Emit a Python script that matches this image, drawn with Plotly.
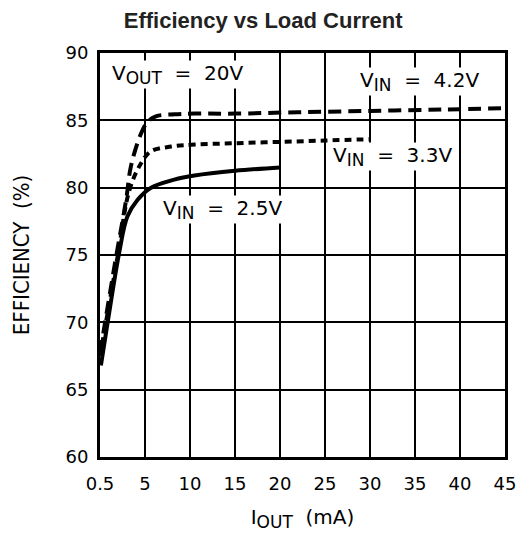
import plotly.graph_objects as go

# Data (x on the load-current axis, y = efficiency in %)
x_25 = [0.1, 0.85, 2.14, 3.04, 4.18, 5.67, 8.26, 10.5, 15.0, 20.0]
y_25 = [66.8, 70.0, 75.2, 77.85, 79.1, 80.0, 80.6, 80.9, 81.25, 81.5]

x_33 = [0.0, 1.96, 3.26, 4.55, 5.67, 7.9, 10.5, 15.0, 20.0, 25.0, 30.0]
y_33 = [67.5, 74.9, 79.8, 81.8, 82.7, 83.05, 83.2, 83.3, 83.4, 83.5, 83.6]

x_42 = [0.0, 1.59, 2.9, 3.44, 4.55, 5.3, 6.2, 8.3, 10.5, 15.0, 22.0, 30.0, 38.0, 45.0]
y_42 = [67.7, 74.1, 79.1, 81.6, 84.0, 84.9, 85.3, 85.45, 85.5, 85.5, 85.6, 85.7, 85.8, 85.9]

x_tickvals = [0, 5, 10, 15, 20, 25, 30, 35, 40, 45]
x_ticktext = ["0.5", "5", "10", "15", "20", "25", "30", "35", "40", "45"]
y_tickvals = [60, 65, 70, 75, 80, 85, 90]

FONT = "DejaVu Sans"

fig = go.Figure()
fig.add_trace(go.Scatter(x=x_25, y=y_25, mode="lines",
                         line=dict(color="black", width=4, shape="spline", smoothing=1), showlegend=False))
fig.add_trace(go.Scatter(x=x_33, y=y_33, mode="lines",
                         line=dict(color="black", width=4, shape="spline", smoothing=1, dash="7px,5px"), showlegend=False))
fig.add_trace(go.Scatter(x=x_42, y=y_42, mode="lines",
                         line=dict(color="black", width=4, shape="spline", smoothing=1, dash="13px,7px"), showlegend=False))

ann_font = dict(family=FONT, size=20, color="black")
SUB = '<sub><span style="font-size:17px">{}</span></sub>'
annotations = [
    dict(x=1.2, y=88.4, xanchor="left", yanchor="middle", text="V" + SUB.format("OUT") + "  =  20V",
         showarrow=False, font=ann_font, bgcolor="white", borderpad=0),
    dict(x=28.8, y=87.9, xanchor="left", yanchor="middle", text="V" + SUB.format("IN") + "  =  4.2V",
         showarrow=False, font=ann_font, bgcolor="white", borderpad=0),
    dict(x=25.8, y=82.3, xanchor="left", yanchor="middle", text="V" + SUB.format("IN") + "  =  3.3V",
         showarrow=False, font=ann_font, bgcolor="white", borderpad=0),
    dict(x=6.9, y=78.4, xanchor="left", yanchor="middle", text="V" + SUB.format("IN") + "  =  2.5V",
         showarrow=False, font=ann_font, bgcolor="white", borderpad=0),
]

fig.update_layout(
    width=518, height=550,
    margin=dict(l=100, r=13, t=53, b=93, autoexpand=False),
    paper_bgcolor="white", plot_bgcolor="white",
    title=dict(text="<b>Efficiency vs Load Current</b>", x=0.508, xref="container", xanchor="center",
               y=0.964, yref="container", yanchor="middle", automargin=False,
               font=dict(family="Liberation Sans", size=22, color="#222222")),
    annotations=annotations,
    font=dict(family=FONT, size=18, color="black"),
)
fig.update_xaxes(range=[0, 45], tickvals=x_tickvals, ticktext=x_ticktext, showgrid=True, gridcolor="black", gridwidth=2,
                 showline=True, linecolor="black", linewidth=3, mirror=True, ticks="", zeroline=False,
                 tickfont=dict(family=FONT, size=18, color="black"), ticklabelstandoff=8,
                 ticklabeloverflow="allow", automargin=False,
                 title=dict(text="I" + SUB.format("OUT") + "  (mA)", font=dict(family=FONT, size=20, color="black"),
                            standoff=18))
fig.update_yaxes(range=[60, 90], tickvals=y_tickvals, showgrid=True, gridcolor="black", gridwidth=2,
                 showline=True, linecolor="black", linewidth=3, mirror=True, ticks="", zeroline=False,
                 tickfont=dict(family=FONT, size=18, color="black"), ticklabelstandoff=5, automargin=False,
                 title=dict(text="EFFICIENCY  (%)", font=dict(family="DejaVu Sans Condensed", size=22, color="black"),
                            standoff=30))

fig.write_html("out.html", config={"displayModeBar": False},
               post_script="document.body.style.margin='0';document.body.style.overflow='hidden';")
